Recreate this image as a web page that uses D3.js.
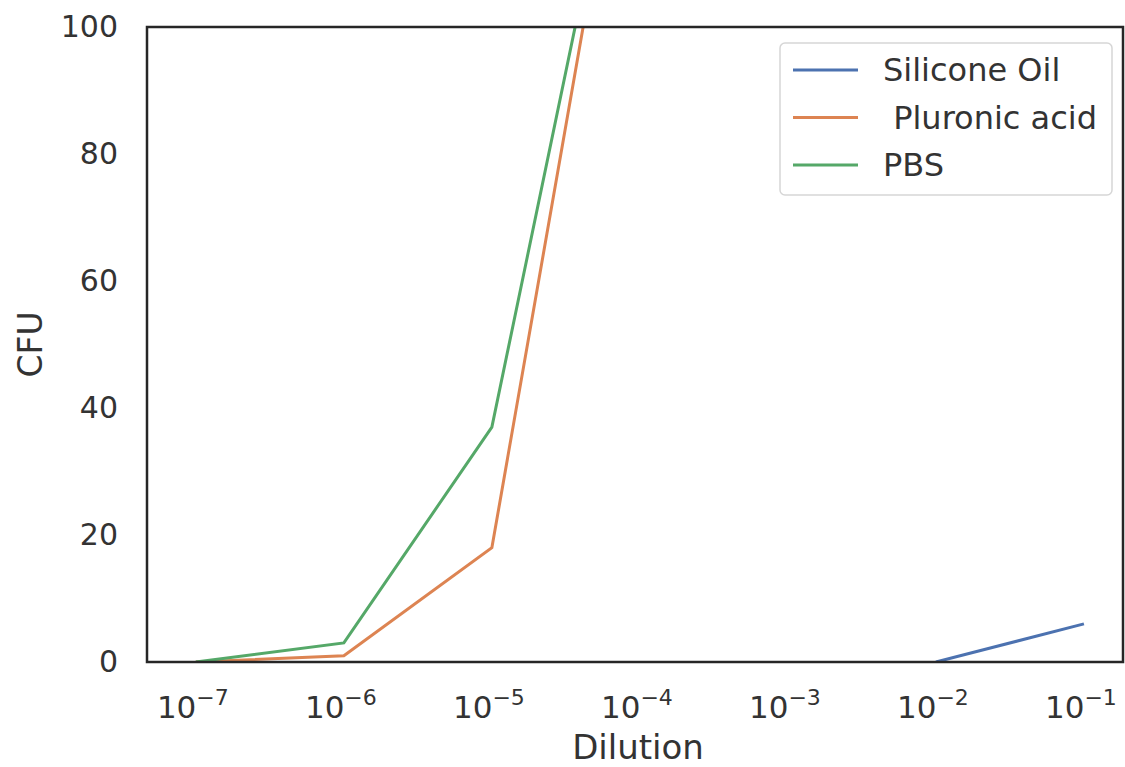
<!DOCTYPE html>
<html lang="en">
<head>
    <meta charset="UTF-8">
    <title>CFU vs Dilution</title>
    <script src="https://d3js.org/d3.v7.min.js"></script>
    <style>
        body { margin: 0; background: #fff; }
        svg text { font-family: "DejaVu Sans", sans-serif; fill: #333; }
        .spine { stroke: #262626; stroke-width: 2.5px; fill: none; }
        .series { fill: none; stroke-width: 3px; }
    </style>
</head>
<body>
    <svg width="1125" height="767"></svg>
    <script>
        // data
        const dilutions = [1e-7, 1e-6, 1e-5, 1e-4, 1e-3, 1e-2, 1e-1];
        const siliconeOil = [null, null, null, null, null, 0, 6];
        const pluronicAcid = [0, 1, 18, 151, null, null, null];
        const pbs = [0, 3, 37, 149, null, null, null];
        const seriesNames = ["Silicone Oil", " Pluronic acid", "PBS"];
        const seriesColors = ["#4c72b0", "#dd8452", "#55a868"];
        const yTicks = [0, 20, 40, 60, 80, 100];
        const xTickExps = [-7, -6, -5, -4, -3, -2, -1];

        const svg = d3.select("svg");
        const plotLeft = 147, plotRight = 1123, plotTop = 27, plotBottom = 662;

        const x = d3.scaleLog()
            .domain([Math.pow(10, -7.33), Math.pow(10, -0.736)])
            .range([plotLeft, plotRight]);
        const y = d3.scaleLinear().domain([0, 100]).range([plotBottom, plotTop]);

        svg.append("clipPath").attr("id", "plot-clip")
            .append("rect")
            .attr("x", plotLeft).attr("y", plotTop)
            .attr("width", plotRight - plotLeft).attr("height", plotBottom - plotTop);

        const allSeries = [siliconeOil, pluronicAcid, pbs];
        const line = d3.line()
            .defined(d => d.v != null)
            .x(d => x(d.x))
            .y(d => y(d.v));

        const lineGroup = svg.append("g").attr("clip-path", "url(#plot-clip)");
        allSeries.forEach((vals, i) => {
            const pts = dilutions.map((dx, j) => ({ x: dx, v: vals[j] }));
            lineGroup.append("path")
                .attr("class", "series")
                .attr("stroke", seriesColors[i])
                .attr("d", line(pts));
        });

        // frame
        svg.append("rect")
            .attr("class", "spine")
            .attr("x", plotLeft).attr("y", plotTop)
            .attr("width", plotRight - plotLeft).attr("height", plotBottom - plotTop);

        // y axis labels (no tick marks, seaborn white style)
        const yAxis = d3.axisLeft(y).tickValues(yTicks).tickSize(0).tickPadding(29);
        const yg = svg.append("g").attr("transform", `translate(${plotLeft},0)`).call(yAxis);
        yg.select(".domain").remove();
        yg.selectAll("text").style("font-size", "30px").attr("fill", "#333")
            .style("font-family", "DejaVu Sans");

        // x axis labels as 10^n
        const xg = svg.append("g");
        xTickExps.forEach(e => {
            const t = xg.append("text")
                .attr("x", x(Math.pow(10, e)) - 3)
                .attr("y", 718)
                .attr("text-anchor", "middle")
                .style("font-size", "31px");
            t.append("tspan").text("10");
            t.append("tspan")
                .attr("dy", -13)
                .style("font-size", "22px")
                .text("\u2212" + Math.abs(e));
        });

        svg.append("text")
            .attr("x", (plotLeft + plotRight) / 2 + 3)
            .attr("y", 759)
            .attr("text-anchor", "middle")
            .style("font-size", "34px")
            .text("Dilution");

        svg.append("text")
            .attr("transform", `translate(42,${(plotTop + plotBottom) / 2}) rotate(-90)`)
            .attr("text-anchor", "middle")
            .style("font-size", "33px")
            .text("CFU");

        // legend
        const lg = svg.append("g").attr("transform", "translate(780,43)");
        lg.append("rect")
            .attr("width", 332).attr("height", 152)
            .attr("rx", 5)
            .attr("fill", "#fff")
            .attr("stroke", "#d6d6d6")
            .attr("stroke-width", 1.5);
        seriesNames.forEach((name, i) => {
            const cy = 27 + i * 47.5;
            lg.append("line")
                .attr("x1", 13).attr("x2", 78)
                .attr("y1", cy).attr("y2", cy)
                .attr("stroke", seriesColors[i])
                .attr("stroke-width", 3);
            lg.append("text")
                .attr("x", 103).attr("y", cy + 11)
                .attr("xml:space", "preserve")
                .style("white-space", "pre")
                .style("font-size", "32px")
                .text(name);
        });
    </script>
</body>
</html>
